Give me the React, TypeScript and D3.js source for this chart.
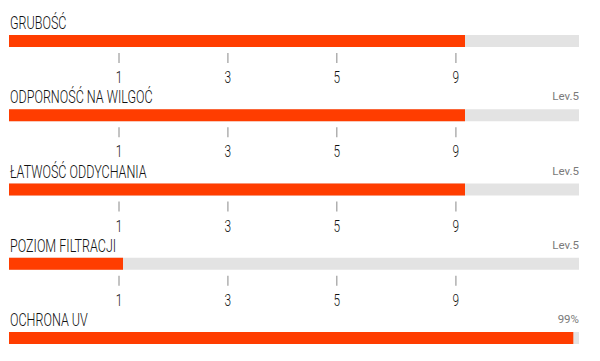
import React from "react";
import * as d3 from "d3";

const categories = ["GRUBOŚĆ", "ODPORNOŚĆ NA WILGOĆ", "ŁATWOŚĆ ODDYCHANIA", "POZIOM FILTRACJI", "OCHRONA UV"];
const fillPercent = [80, 80, 80, 20, 99];
const rightLabels = ["", "Lev.5", "Lev.5", "Lev.5", "99%"];
const showTicks = [true, true, true, true, false];
const tickLabels = ["1", "3", "5", "9"];
const tickPercent = [19.3, 38.4, 57.5, 78.4];

const W = 600;
const H = 361;
const ORANGE = "#FF3D00";
const GRAY = "#E3E3E3";
const FONT = "Roboto, sans-serif";
const SQUEEZE = 0.66;

export default function App() {
  const x = d3.scaleLinear().domain([0, 100]).range([9, 579]);
  const y = d3.scaleBand<number>().domain(d3.range(categories.length)).range([35, 35 + 74.25 * 5]).paddingInner(0);
  const barH = 12;
  return (
    <svg width={W} height={H} style={{ position: "absolute", left: 0, top: 0, background: "#fff" }}>
      {categories.map((c, i) => {
        const top = y(i)!;
        return (
          <g key={i}>
            <text transform={`translate(10,${top - 6}) scale(${SQUEEZE},1)`} fontFamily={FONT} fontWeight={300} fontSize={19} fill="#111">{c}</text>
            {rightLabels[i] && (
              <text x={579} y={top - 9} textAnchor="end" fontFamily={FONT} fontSize={11.5} fill="#7a7a7a">{rightLabels[i]}</text>
            )}
            <rect x={x(0)} y={top} width={x(100) - x(0)} height={barH} fill={GRAY} />
            <rect x={x(0)} y={top} width={x(fillPercent[i]) - x(0)} height={barH} fill={ORANGE} />
            {showTicks[i] && tickLabels.map((t, j) => (
              <g key={j}>
                <line x1={x(tickPercent[j])} x2={x(tickPercent[j])} y1={top + 18} y2={top + 28} stroke="#b0b0b0" strokeWidth={1.5} />
                <text transform={`translate(${x(tickPercent[j])},${top + 48}) scale(0.72,1)`} textAnchor="middle" fontFamily={FONT} fontWeight={300} fontSize={16.5} fill="#111">{t}</text>
              </g>
            ))}
          </g>
        );
      })}
    </svg>
  );
}
